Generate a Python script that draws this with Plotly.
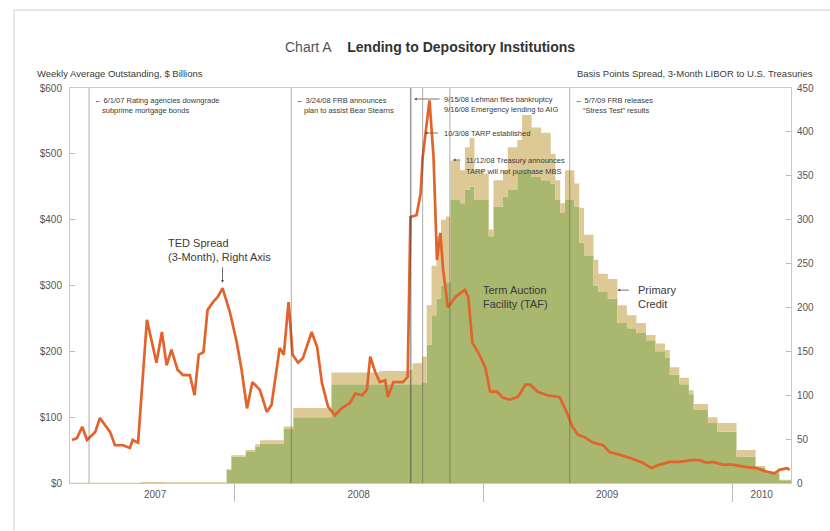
import plotly.graph_objects as go

# ---------------- data ----------------
area_dates = ["2007-05-04","2007-08-16","2007-09-20","2007-11-01","2007-12-20","2007-12-27",
              "2008-01-17","2008-01-31","2008-02-07","2008-03-13","2008-03-27","2008-05-22",
              "2008-07-31","2008-09-11","2008-09-18","2008-10-02","2008-10-09","2008-10-16",
              "2008-10-23","2008-10-30","2008-11-06","2008-11-13","2008-11-27","2008-12-04",
              "2008-12-11","2008-12-18","2009-01-01","2009-01-08","2009-01-15","2009-01-29",
              "2009-02-05","2009-02-19","2009-02-26","2009-03-12","2009-03-26","2009-04-09",
              "2009-04-16","2009-04-23","2009-04-30","2009-05-14","2009-05-21","2009-05-28",
              "2009-06-11","2009-06-18","2009-07-02","2009-07-16","2009-07-30","2009-08-13",
              "2009-08-27","2009-09-10","2009-09-24","2009-10-01","2009-10-15","2009-10-29",
              "2009-11-05","2009-11-26","2009-12-10","2010-01-07","2010-02-04","2010-02-18",
              "2010-03-11","2010-03-28"]
taf_values = [0, 0, 0, 0, 20, 40, 47, 55, 60, 82, 100, 150, 150, 150, 150, 152, 210, 255,
              280, 300, 305, 430, 425, 445, 450, 430, 430, 375, 420, 435, 445, 471, 475, 465,
              460, 455, 430, 410, 430, 420, 365, 345, 300, 290, 280, 243, 235, 228, 217, 200,
              190, 165, 150, 135, 111, 91, 78, 40, 24, 15, 4, 1]
primary_credit_values = [0.3, 1.5, 1, 1, 1, 2, 3, 4, 5, 4, 14, 18, 20, 22, 32, 40, 60, 75,
                         95, 100, 100, 60, 50, 65, 74, 45, 40, 10, 40, 40, 65, 50, 84, 75,
                         72, 45, 30, 15, 45, 35, 53, 32, 39, 28, 30, 27, 20, 15, 8, 12,
                         12, 11, 10, 6, 9, 9, 13, 10, 2, 2, 1, 0.5]

ted_dates = ["2007-05-07","2007-05-14","2007-05-22","2007-05-29","2007-06-10","2007-06-17",
             "2007-07-02","2007-07-09","2007-07-21","2007-07-31","2007-08-04","2007-08-12",
             "2007-08-25","2007-09-08","2007-09-16","2007-09-23","2007-09-30","2007-10-09",
             "2007-10-17","2007-10-27","2007-11-03","2007-11-09","2007-11-16","2007-11-22",
             "2007-11-30","2007-12-07","2007-12-14","2007-12-25","2008-01-04","2008-01-11",
             "2008-01-19","2008-01-27","2008-02-07","2008-02-17","2008-02-24","2008-03-07",
             "2008-03-13","2008-03-20","2008-03-26","2008-04-03","2008-04-10","2008-04-23",
             "2008-05-01","2008-05-08","2008-05-17","2008-05-27","2008-06-06","2008-06-18",
             "2008-06-26","2008-07-06","2008-07-13","2008-07-18","2008-07-25","2008-08-01",
             "2008-08-09","2008-08-13","2008-08-21","2008-09-04","2008-09-11","2008-09-15",
             "2008-09-24","2008-09-30","2008-10-03","2008-10-13","2008-10-19","2008-10-24",
             "2008-10-29","2008-11-02","2008-11-09","2008-11-20","2008-12-04","2008-12-09",
             "2008-12-15","2008-12-24","2009-01-03","2009-01-10","2009-01-20","2009-01-29",
             "2009-02-08","2009-02-20","2009-03-03","2009-03-10","2009-03-21","2009-04-04",
             "2009-04-22","2009-05-03","2009-05-11","2009-05-19","2009-05-29","2009-06-10",
             "2009-06-25","2009-07-05","2009-07-20","2009-08-06","2009-08-22","2009-09-04",
             "2009-09-16","2009-10-01","2009-10-15","2009-11-02","2009-11-14","2009-11-24",
             "2009-12-03","2009-12-18","2010-01-01","2010-01-22","2010-02-05","2010-02-20",
             "2010-03-04","2010-03-11","2010-03-22","2010-03-26"]
ted_values = [49, 51, 64, 49, 58, 74, 58, 43, 43, 40, 49, 46,
              186, 137, 172, 134, 152, 129, 123, 123, 100, 146, 149, 197,
              206, 212, 222, 194, 160, 129, 85, 115, 106, 81, 89, 154,
              146, 206, 146, 137, 142, 172, 155, 114, 87, 77, 85, 91,
              102, 100, 106, 144, 127, 115, 117, 98, 115, 115, 121, 303,
              305, 330, 371, 436, 371, 254, 285, 243, 200, 212, 220, 212,
              160, 148, 132, 104, 104, 97, 95, 98, 112, 112, 104, 100,
              98, 80, 64, 55, 52, 46, 43, 35, 32, 28, 23, 17,
              21, 24, 24, 26, 26, 23, 24, 21, 21, 18, 17, 13,
              11, 15, 17, 15]

event_dates = ["2007-06-01", "2008-03-24", "2008-09-15", "2008-09-16", "2008-10-03",
               "2008-11-12", "2009-05-07"]

left_ticks = [0, 100, 200, 300, 400, 500, 600]
left_tick_labels = ["$0", "$100", "$200", "$300", "$400", "$500", "$600"]
right_ticks = [0, 50, 100, 150, 200, 250, 300, 350, 400, 450]
right_tick_labels = ["0", "50", "100", "150", "200", "250", "300", "350", "400", "450"]
year_label_dates = ["2007-09-06", "2008-07-01", "2009-07-01", "2010-02-13"]
year_labels = ["2007", "2008", "2009", "2010"]
year_boundaries = ["2008-01-01", "2009-01-01", "2010-01-01"]
x_range = ["2007-05-04", "2010-03-28"]

# ---------------- style ----------------
GREEN = "#aab76f"
TAN = "#ddc995"
ORANGE = "#e2642c"
TXT = "#3a3a3a"
AX = "#c9c9c9"
FONT = "Liberation Sans, Arial, sans-serif"

W, H = 830, 531
ML, MR, MT, MB = 70, 39, 88, 48
PH = H - MT - MB


def py(p):
    """pixel row -> paper y"""
    return (H - MB - p) / PH


def px(p):
    return (p - ML) / (W - ML - MR)


fig = go.Figure()
fig.add_trace(go.Scatter(x=area_dates, y=taf_values, stackgroup="lend", mode="lines",
                         line=dict(width=0, shape="hv"), fillcolor=GREEN,
                         name="Term Auction Facility (TAF)"))
fig.add_trace(go.Scatter(x=area_dates, y=primary_credit_values, stackgroup="lend", mode="lines",
                         line=dict(width=0, shape="hv"), fillcolor=TAN,
                         name="Primary Credit"))
fig.add_trace(go.Scatter(x=ted_dates, y=ted_values, yaxis="y2", mode="lines",
                         line=dict(color=ORANGE, width=2.7), name="TED Spread"))

shapes = []
for d in event_dates:
    shapes.append(dict(type="line", xref="x", yref="paper", x0=d, x1=d, y0=0, y1=1,
                       line=dict(color="rgba(60,60,60,0.42)", width=1), layer="above"))
# outer frame (left and top)
shapes.append(dict(type="line", xref="paper", yref="paper", x0=px(14), x1=px(14),
                   y0=py(560), y1=py(10), line=dict(color="#cfcfcf", width=1)))
shapes.append(dict(type="line", xref="paper", yref="paper", x0=px(14), x1=px(900),
                   y0=py(10), y1=py(10), line=dict(color="#cfcfcf", width=1)))

ann = []


def note(date, prow, text, xshift=0, size=7.5):
    ann.append(dict(x=date, xref="x", y=py(prow), yref="paper", text=text, showarrow=False,
                    xanchor="left", yanchor="middle", xshift=xshift,
                    font=dict(size=size, color=TXT, family=FONT)))


def arrow(date, prow, length, xshift=0):
    ann.append(dict(x=date, xref="x", y=py(prow), yref="paper", text="", showarrow=True,
                    ax=length, ay=0, arrowhead=2, arrowsize=0.7, arrowwidth=0.8,
                    arrowcolor="#555", xshift=xshift, standoff=0))


note("2007-06-01", 100, "← 6/1/07 Rating agencies downgrade", 3)
note("2007-06-01", 111, "subprime mortgage bonds", 11)
note("2008-03-24", 100, "← 3/24/08 FRB announces", 3)
note("2008-03-24", 111, "plan to assist Bear Stearns", 11)
arrow("2008-09-16", 99, 27, 3)
note("2008-09-16", 99, "9/15/08 Lehman files bankruptcy", 31)
note("2008-09-16", 110, "9/16/08 Emergency lending to AIG", 31)
arrow("2008-10-03", 133, 15, 2)
note("2008-10-03", 133, "10/3/08 TARP established", 19)
arrow("2008-11-12", 160, 9, 3)
note("2008-11-12", 160, "11/12/08 Treasury announces", 14)
note("2008-11-12", 171, "TARP will not purchase MBS", 14)
note("2009-05-07", 100, "← 5/7/09 FRB releases", 3)
note("2009-05-07", 111, "“Stress Test” results", 11)

# series labels
ann.append(dict(x="2007-09-22", xref="x", y=265, yref="y2", text="TED Spread<br>(3-Month), Right Axis",
                showarrow=False, xanchor="left", yanchor="middle", align="left",
                font=dict(size=11, color=TXT, family=FONT)))
ann.append(dict(x="2007-12-14", xref="x", y=228, yref="y2", text="", showarrow=True,
                ax=0, ay=-17, arrowhead=2, arrowsize=0.7, arrowwidth=0.8, arrowcolor="#444",
                standoff=0))
ann.append(dict(x="2008-12-27", xref="x", y=282, yref="y", text="Term Auction<br>Facility (TAF)",
                showarrow=False, xanchor="left", yanchor="middle", align="left",
                font=dict(size=11, color=TXT, family=FONT)))
ann.append(dict(x="2009-07-16", xref="x", y=293, yref="y", text="", showarrow=True,
                ax=13, ay=0, arrowhead=2, arrowsize=0.7, arrowwidth=0.8, arrowcolor="#555",
                standoff=0))
ann.append(dict(x="2009-08-12", xref="x", y=283, yref="y", text="Primary<br>Credit",
                showarrow=False, xanchor="left", yanchor="middle", align="left",
                font=dict(size=11, color=TXT, family=FONT)))

# titles
ann.append(dict(x=px(430), y=py(47), xref="paper", yref="paper", showarrow=False,
                text="<span style='color:#555'>Chart A</span>&nbsp;&nbsp;&nbsp;&nbsp;<b>Lending to Depository Institutions</b>",
                xanchor="center", yanchor="middle", font=dict(size=14, color="#333", family=FONT)))
ann.append(dict(x=px(35), y=py(73), xref="paper", yref="paper", showarrow=False,
                text="Weekly Average Outstanding, $ Billions", xanchor="left", yanchor="middle",
                font=dict(size=9.5, color=TXT, family=FONT)))
ann.append(dict(x=px(815), y=py(73), xref="paper", yref="paper", showarrow=False,
                text="Basis Points Spread, 3-Month LIBOR to U.S. Treasuries", xanchor="right",
                yanchor="middle", font=dict(size=9.5, color=TXT, family=FONT)))

fig.update_layout(
    width=W, height=H,
    margin=dict(l=ML, r=MR, t=MT, b=MB),
    paper_bgcolor="white", plot_bgcolor="white",
    showlegend=False,
    font=dict(family=FONT, size=10, color="#555"),
    xaxis=dict(type="date", range=x_range, showgrid=False, zeroline=False,
               showline=True, linecolor=AX, linewidth=1, mirror=True,
               tickmode="array", tickvals=year_label_dates, ticktext=year_labels, ticks="",
               tickfont=dict(size=10, color="#555"), ticklabelstandoff=2,
               minor=dict(tickmode="array", tickvals=year_boundaries, ticks="outside",
                          ticklen=18, tickcolor="#bbb", tickwidth=1, showgrid=False)),
    yaxis=dict(range=[0, 600], showgrid=False, zeroline=False, showline=True, linecolor=AX,
               tickmode="array", tickvals=left_ticks, ticktext=left_tick_labels,
               ticks="inside", ticklen=5, tickcolor="#bbb", ticklabelstandoff=5,
               tickfont=dict(size=10, color="#555")),
    yaxis2=dict(range=[0, 450], overlaying="y", side="right", showgrid=False, zeroline=False,
                showline=True, linecolor=AX, tickmode="array", tickvals=right_ticks,
                ticktext=right_tick_labels, ticks="inside", ticklen=5, tickcolor="#bbb",
                ticklabelstandoff=3, tickfont=dict(size=10, color="#555")),
    shapes=shapes,
    annotations=ann,
)

fig.write_html("out.html", config={"displayModeBar": False},
               post_script="document.body.style.margin='0px';document.body.style.overflow='hidden';")
